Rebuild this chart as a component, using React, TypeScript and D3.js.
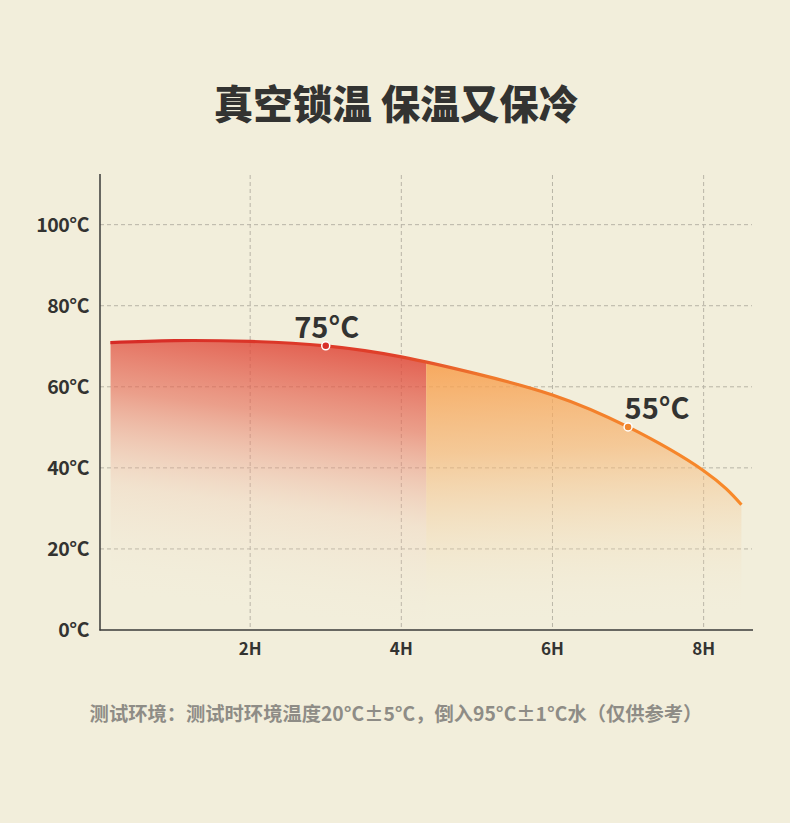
import React from "react";
import * as d3 from "d3";

const hours = [0.15, 1, 2, 3, 4, 5, 6, 7, 8, 8.5];
const temps = [70.9, 71.4, 71.2, 70.1, 67.4, 63.2, 58.0, 50.1, 39.3, 30.9];
const splitHour = 4.33;
const xTicks = [2, 4, 6, 8];
const xTickLabels = ["2H", "4H", "6H", "8H"];
const yTicks = [0, 20, 40, 60, 80, 100];
const yTickLabels = ["0°C", "20°C", "40°C", "60°C", "80°C", "100°C"];
const callouts = [
  { hour: 3, temp: 70.1, label: "75°C", color: "#d8302a" },
  { hour: 7, temp: 50.1, label: "55°C", color: "#f0862c" },
];
const title = "真空锁温 保温又保冷";
const footnote = "测试环境：测试时环境温度20°C±5°C，倒入95°C±1°C水（仅供参考）";

const W = 790;
const H = 823;
const FONT = "'Noto Sans CJK SC', 'Noto Sans', sans-serif";

export default function App() {
  const x = d3.scaleLinear().domain([0, 8.64]).range([99, 752]);
  const y = d3.scaleLinear().domain([0, 112.5]).range([630, 174]);
  const pts: [number, number][] = hours.map((h, i) => [h, temps[i]]);

  const line = d3
    .line<[number, number]>()
    .x((d) => x(d[0]))
    .y((d) => y(d[1]))
    .curve(d3.curveNatural);
  const area = d3
    .area<[number, number]>()
    .x((d) => x(d[0]))
    .y0(y(0))
    .y1((d) => y(d[1]))
    .curve(d3.curveNatural);

  const xs = x(splitHour);
  const x0 = x(hours[0]);
  const x1 = x(hours[hours.length - 1]);

  return (
    <svg width={W} height={H} style={{ display: "block", position: "absolute", left: 0, top: 0 }}>
      <defs>
        <linearGradient id="redFill" x1="0.7" y1="0" x2="0.4" y2="1">
          <stop offset="0" stopColor="#dc3328" stopOpacity={0.95} />
          <stop offset="0.35" stopColor="#e66a55" stopOpacity={0.6} />
          <stop offset="0.65" stopColor="#f0c0a8" stopOpacity={0.25} />
          <stop offset="1" stopColor="#f2eedb" stopOpacity={0} />
        </linearGradient>
        <linearGradient id="orangeFill" x1="0.4" y1="0" x2="0.5" y2="1">
          <stop offset="0" stopColor="#f89a45" stopOpacity={0.95} />
          <stop offset="0.4" stopColor="#f6b06a" stopOpacity={0.6} />
          <stop offset="0.75" stopColor="#f3d8b0" stopOpacity={0.25} />
          <stop offset="1" stopColor="#f2eedb" stopOpacity={0} />
        </linearGradient>
        <linearGradient id="lineGrad" gradientUnits="userSpaceOnUse" x1={x0} y1={0} x2={x1} y2={0}>
          <stop offset="0" stopColor="#d62a26" />
          <stop offset={(xs - x0) / (x1 - x0) - 0.05} stopColor="#e0402a" />
          <stop offset={(xs - x0) / (x1 - x0) + 0.1} stopColor="#f07a2c" />
          <stop offset="1" stopColor="#f88a2a" />
        </linearGradient>
        <clipPath id="clipRed">
          <rect x={x0} y={0} width={xs - x0} height={H} />
        </clipPath>
        <clipPath id="clipOrange">
          <rect x={xs} y={0} width={x1 - xs + 1} height={H} />
        </clipPath>
      </defs>
      <rect x={0} y={0} width={W} height={H} fill="#f2eedb" />

      <text x={396} y={119} textAnchor="middle" fontFamily={FONT} fontWeight={900} fontSize={39.5} fill="#333331">
        {title}
      </text>

      {yTicks.filter((t) => t > 0).map((t) => (
        <line key={"gy" + t} x1={100} x2={752} y1={y(t)} y2={y(t)} stroke="#b8b4a6" strokeWidth={1} strokeDasharray="4,3" />
      ))}
      {xTicks.map((t) => (
        <line key={"gx" + t} x1={x(t)} x2={x(t)} y1={175} y2={630} stroke="#b8b4a6" strokeWidth={1} strokeDasharray="4,3" />
      ))}

      <path d={area(pts) || ""} fill="url(#redFill)" clipPath="url(#clipRed)" />
      <path d={area(pts) || ""} fill="url(#orangeFill)" clipPath="url(#clipOrange)" />
      <path d={line(pts) || ""} fill="none" stroke="url(#lineGrad)" strokeWidth={3.2} strokeLinecap="butt" />

      <line x1={100} x2={100} y1={174} y2={630.5} stroke="#3a3a38" strokeWidth={1.5} />
      <line x1={99.5} x2={753} y1={630} y2={630} stroke="#3a3a38" strokeWidth={1.5} />

      {yTicks.map((t, i) => (
        <text key={"yl" + t} x={89} y={y(t) + 7} textAnchor="end" fontFamily={FONT} fontWeight={700} fontSize={19.5} fill="#333331" letterSpacing={-0.5}>
          {yTickLabels[i]}
        </text>
      ))}
      {xTicks.map((t, i) => (
        <text key={"xl" + t} x={x(t)} y={655} textAnchor="middle" fontFamily={FONT} fontWeight={700} fontSize={17} fill="#333331">
          {xTickLabels[i]}
        </text>
      ))}

      {callouts.map((c) => (
        <g key={c.label}>
          <text x={x(c.hour) + 1} y={y(c.temp) - 8} textAnchor="middle" fontFamily={FONT} fontWeight={700} fontSize={29} fill="#333331" dx={c.hour > 5 ? 28 : 0}>
            {c.label}
          </text>
          <circle cx={x(c.hour)} cy={y(c.temp)} r={4} fill={c.color} stroke="#ffffff" strokeWidth={1.5} />
        </g>
      ))}

      <text x={396} y={721} textAnchor="middle" fontFamily={FONT} fontWeight={700} fontSize={19.3} fill="#8e8c86">
        {footnote}
      </text>
    </svg>
  );
}
